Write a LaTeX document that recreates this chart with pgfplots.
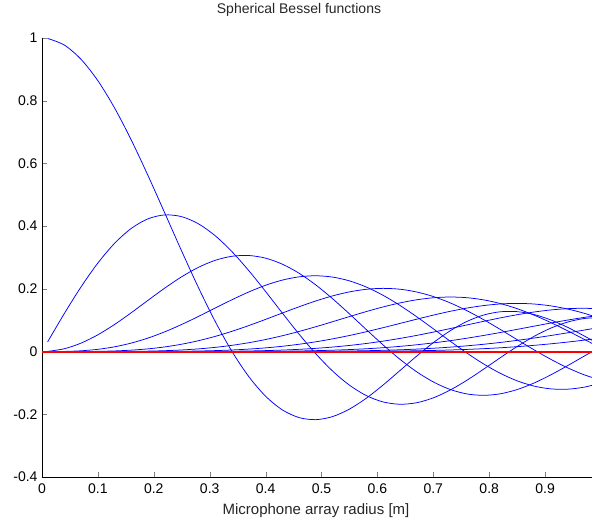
\documentclass[border=0pt]{standalone}
\usepackage{fontspec}
\setmainfont{Liberation Sans}
\usepackage{pgfplots}
\usepackage{pgfplotstable}
\pgfplotsset{compat=1.18}
\definecolor{zeroline}{RGB}{255,0,0}
\definecolor{curve}{RGB}{0,0,255}

% spherical Bessel functions j_n(k r), k = 9.24 1/m, n = 0..10
\pgfplotstableread{
r    j0       j1       j2       j3       j4       j5       j6       j7       j8       j9       j10
0.01 0.99858  0.03077  0.00057  0.00001  0.00000  0.00000  0.00000  0.00000  0.00000  0.00000  0.00000
0.04 0.97739  0.12153  0.00902  0.00048  0.00002  0.00000  0.00000  0.00000  0.00000  0.00000  0.00000
0.07 0.93172  0.20671  0.02707  0.00252  0.00018  0.00001  0.00000  0.00000  0.00000  0.00000  0.00000
0.10 0.86366  0.28249  0.05353  0.00716  0.00074  0.00006  0.00000  0.00000  0.00000  0.00000  0.00000
0.13 0.77629  0.34553  0.08667  0.01523  0.00206  0.00023  0.00002  0.00000  0.00000  0.00000  0.00000
0.16 0.67352  0.39317  0.12430  0.02722  0.00457  0.00062  0.00007  0.00001  0.00000  0.00000  0.00000
0.19 0.55991  0.42359  0.16394  0.04330  0.00872  0.00142  0.00020  0.00002  0.00000  0.00000  0.00000
0.22 0.44036  0.43590  0.20294  0.06327  0.01493  0.00284  0.00045  0.00006  0.00001  0.00000  0.00000
0.25 0.31992  0.43014  0.23870  0.08654  0.02353  0.00514  0.00094  0.00015  0.00002  0.00000  0.00000
0.28 0.20347  0.40727  0.26878  0.11217  0.03471  0.00858  0.00177  0.00031  0.00005  0.00001  0.00000
0.31 0.09554  0.36914  0.29108  0.13896  0.04850  0.01344  0.00310  0.00061  0.00011  0.00002  0.00000
0.34 0.00000  0.31831  0.30396  0.16546  0.06471  0.01994  0.00509  0.00111  0.00021  0.00004  0.00001
0.37 -0.08005 0.25792  0.30637  0.19015  0.08296  0.02825  0.00793  0.00190  0.00040  0.00007  0.00001
0.40 -0.14243 0.19150  0.29787  0.21147  0.10263  0.03845  0.01181  0.00308  0.00070  0.00014  0.00003
0.43 -0.18600 0.12274  0.27868  0.22796  0.12293  0.05051  0.01690  0.00479  0.00118  0.00026  0.00005
0.46 -0.21061 0.05532  0.24965  0.23836  0.14291  0.06424  0.02335  0.00715  0.00190  0.00045  0.00009
0.49 -0.21711 -0.00737 0.21223  0.24174  0.16152  0.07933  0.03122  0.01031  0.00294  0.00074  0.00017
0.52 -0.20724 -0.06234 0.16832  0.23749  0.17768  0.09533  0.04056  0.01440  0.00441  0.00119  0.00029
0.55 -0.18348 -0.10719 0.12021  0.22546  0.19034  0.11162  0.05127  0.01953  0.00639  0.00183  0.00047
0.58 -0.14891 -0.14024 0.07040  0.20592  0.19856  0.12753  0.06321  0.02579  0.00900  0.00275  0.00075
0.61 -0.10692 -0.16055 0.02146  0.17959  0.20158  0.14228  0.07610  0.03323  0.01235  0.00401  0.00116
0.64 -0.06108 -0.16801 -0.02415 0.14760  0.19886  0.15505  0.08956  0.04182  0.01652  0.00568  0.00173
0.67 -0.01490 -0.16325 -0.06421 0.11139  0.19016  0.16505  0.10312  0.05148  0.02161  0.00786  0.00254
0.70 0.02841  -0.14758 -0.09686 0.07270  0.17555  0.17157  0.11623  0.06205  0.02766  0.01065  0.00362
0.73 0.06608  -0.12291 -0.12075 0.03340  0.15542  0.17397  0.12829  0.07328  0.03467  0.01410  0.00505
0.76 0.09594  -0.09157 -0.13506 -0.00459 0.13048  0.17182  0.13865  0.08486  0.04260  0.01830  0.00690
0.79 0.11648  -0.05616 -0.13956 -0.03943 0.10174  0.16487  0.14671  0.09641  0.05140  0.02329  0.00922
0.82 0.12694  -0.01936 -0.13461 -0.06947 0.07043  0.15313  0.15188  0.10746  0.06087  0.02911  0.01212
0.85 0.12732  0.01621  -0.12113 -0.09333 0.03795  0.13682  0.15367  0.11754  0.07081  0.03573  0.01563
0.88 0.11829  0.04821  -0.10050 -0.11001 0.00580  0.11643  0.15170  0.12611  0.08095  0.04312  0.01981
0.91 0.10111  0.07464  -0.07449 -0.11893 -0.02452 0.09268  0.14577  0.13269  0.09094  0.05117  0.02468
0.94 0.07756  0.09402  -0.04509 -0.11997 -0.05160 0.06651  0.13583  0.13679  0.10041  0.05974  0.03027
0.97 0.04973  0.10543  -0.01444 -0.11348 -0.07419 0.03899  0.12204  0.13802  0.10895  0.06863  0.03654
1.00 0.01988  0.10854  0.01536  -0.10023 -0.09128 0.01131  0.10475  0.13607  0.11613  0.07760  0.04343
}\bessel

\begin{document}
\begin{tikzpicture}[x=1pt,y=1pt]
\begin{axis}[
  at={(0,0)}, anchor=south west,
  scale only axis,
  width=550pt, height=439pt,
  xmin=0, xmax=0.9839,
  ymin=-0.4, ymax=1,
  axis x line*=bottom, axis y line*=left,
  tick align=inside,
  major tick length=5pt,
  xtick={0,0.1,0.2,0.3,0.4,0.5,0.6,0.7,0.8,0.9},
  xticklabels={0,0.1,0.2,0.3,0.4,0.5,0.6,0.7,0.8,0.9},
  ytick={-0.4,-0.2,0,0.2,0.4,0.6,0.8,1},
  yticklabels={-0.4,-0.2,0,0.2,0.4,0.6,0.8,1},
  ticklabel style={font=\fontsize{14}{16}\selectfont},
  xticklabel style={yshift=-3pt},
  yticklabel style={xshift=-1pt},
]
\addplot[draw=curve, line width=0.75pt, smooth] table[x=r, y=j0] {\bessel};
\addplot[draw=curve, line width=0.75pt, smooth] table[x=r, y=j1] {\bessel};
\addplot[draw=curve, line width=0.75pt, smooth] table[x=r, y=j2] {\bessel};
\addplot[draw=curve, line width=0.75pt, smooth] table[x=r, y=j3] {\bessel};
\addplot[draw=curve, line width=0.75pt, smooth] table[x=r, y=j4] {\bessel};
\addplot[draw=curve, line width=0.75pt, smooth] table[x=r, y=j5] {\bessel};
\addplot[draw=curve, line width=0.75pt, smooth] table[x=r, y=j6] {\bessel};
\addplot[draw=curve, line width=0.75pt, smooth] table[x=r, y=j7] {\bessel};
\addplot[draw=curve, line width=0.75pt, smooth] table[x=r, y=j8] {\bessel};
\addplot[draw=curve, line width=0.75pt, smooth] table[x=r, y=j9] {\bessel};
\addplot[draw=curve, line width=0.75pt, smooth] table[x=r, y=j10] {\bessel};
% zero line, on top of the curves
\addplot[draw=zeroline, line width=2pt] coordinates {(0,0) (0.25,0) (0.5,0) (0.75,0) (1,0)};
\end{axis}
\node[font=\fontsize{14}{16}\selectfont, text=black!85] at (257,467) {Spherical Bessel functions};
\node[font=\fontsize{15}{17}\selectfont, text=black!85] at (274,-34) {Microphone array radius [m]};
\pgfresetboundingbox
\path[use as bounding box] (-42,-48) rectangle (550,477);
\end{tikzpicture}
\end{document}
